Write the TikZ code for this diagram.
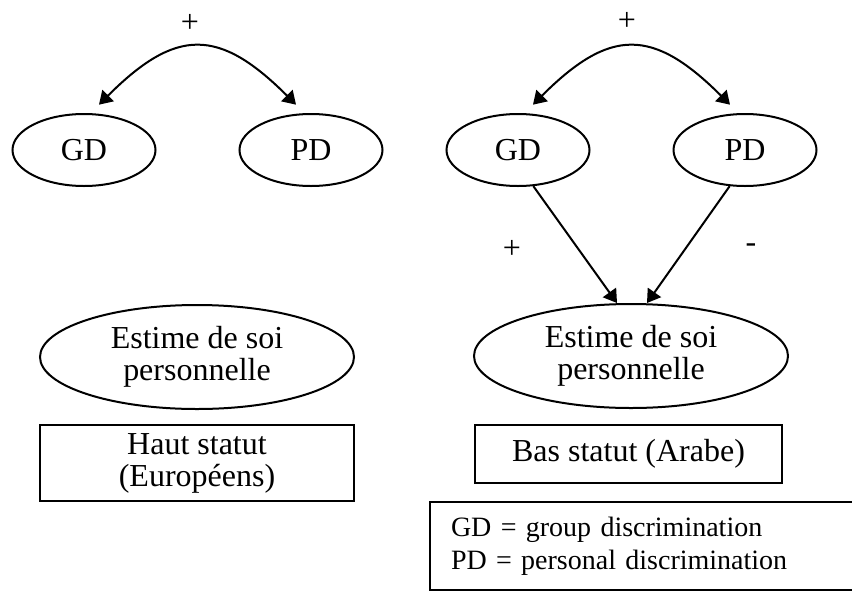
\documentclass[tikz,border=0pt]{standalone}
\usepackage{fontspec}
\setmainfont{Liberation Serif}
\usetikzlibrary{arrows.meta,shapes.geometric}

\begin{document}
\begin{tikzpicture}[x=0.5pt, y=-0.5pt, line width=1pt,
    every node/.style={font=\fontsize{16}{16}\selectfont},
    disc/.style={draw, ellipse, inner sep=0pt, minimum width=71.5pt, minimum height=36pt},
    esteem/.style={draw, ellipse, inner sep=0pt, align=center, minimum width=157pt, minimum height=52pt},
    status/.style={draw, rectangle, inner sep=0pt, align=center},
    link/.style={-{Triangle[length=6.5pt, width=8pt]}},
    both/.style={{Triangle[length=6.5pt, width=8pt]}-{Triangle[length=6.5pt, width=8pt]}, shorten <=6pt, shorten >=6pt}]
      \useasboundingbox (0,0) rectangle (852,590);

      \node[disc] (gdL) at (84,150) {GD};
      \node[disc] (pdL) at (311,150) {PD};
      \node[esteem] (esL) at (197,357) {Estime de soi\\personnelle};
      \node[status, minimum width=157pt, minimum height=38pt] (hsL) at (197,463) {Haut statut\\(Européens)};
      \node (plusL) at (190,23) {+};
      \draw[both] (gdL.80) to[out=45, in=135, looseness=1.45] (pdL.100);

      \node[disc] (gdR) at (518,150) {GD};
      \node[disc] (pdR) at (745,150) {PD};
      \node[esteem] (esR) at (631,356) {Estime de soi\\personnelle};
      \node[status, minimum width=153.5pt, minimum height=29pt] (bsR) at (628.5,454) {Bas statut (Arabe)};
      \node (plusR) at (627,21) {+};
      \draw[both] (gdR.80) to[out=45, in=135, looseness=1.45] (pdR.100);

      \draw[link] (gdR.-67) -- ([xshift=-7pt]esR.north);
      \draw[link] (pdR.-113) -- ([xshift=8pt]esR.north);
      \node (plusGD) at (512,249) {+};
      \node (minusPD) at (751,248) {-};

      \node[draw, anchor=north west, minimum height=44pt, text width=199pt, inner xsep=10.5pt, align=left,
        font=\fontsize{14}{16.5}\selectfont] (key) at (429,501) {GD = group discrimination\\PD = personal discrimination};
    \end{tikzpicture}
\end{document}
